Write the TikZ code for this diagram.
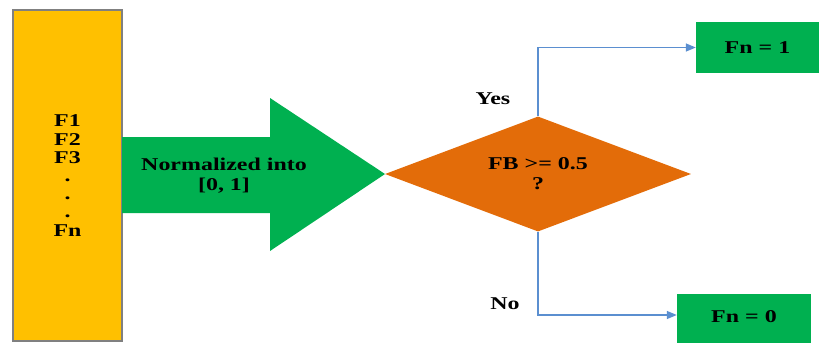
\documentclass[tikz,border=0pt]{standalone}
\usepackage{fontspec}
\setmainfont{Liberation Serif}[FakeStretch=1.33]
\usetikzlibrary{shapes.geometric,arrows.meta}
\definecolor{yel}{HTML}{FFC000}
\definecolor{grn}{HTML}{00B050}
\definecolor{org}{HTML}{E36C09}
\definecolor{lnk}{HTML}{5B8FD0}
\tikzset{
  txt/.style={font=\bfseries\fontsize{18}{20}\selectfont, align=center, inner sep=0pt},
  gbox/.style={fill=grn, draw=none, inner sep=0pt, font=\bfseries\fontsize{18}{20}\selectfont},
  conn/.style={draw=lnk, line width=1.4pt, -{Triangle[length=10pt,width=8pt]}}
}
\begin{document}
\begin{tikzpicture}[x=1pt,y=-1pt]
\useasboundingbox (0,0) rectangle (819,343);
% input bar
\node[fill=yel, draw=gray, line width=1.3pt, minimum width=109pt, minimum height=331pt, inner sep=0pt,
      font=\bfseries\fontsize{18}{18.2}\selectfont, align=center] (feat) at (67.5,175.5)
      {F1\\F2\\F3\\.\\.\\.\\Fn};
% big arrow
\fill[grn] (122,137) -- (270,137) -- (270,98) -- (385,174) -- (270,251) -- (270,213) -- (122,213) -- cycle;
\node[txt] (norm) at (224,176) {Normalized into\\{}[0, 1]};
% decision
\node[diamond, fill=org, draw=none, inner sep=0pt, aspect=2.66, minimum width=306pt, minimum height=115pt,
      font=\bfseries\fontsize{18}{20}\selectfont, align=center] (dia) at (538,174) {FB >= 0.5\\?};
% results
\node[gbox, minimum width=123pt, minimum height=51pt] (fn1) at (757.5,47.5) {Fn = 1};
\node[gbox, minimum width=134pt, minimum height=49pt] (fn0) at (744,318.5) {\raisebox{4pt}{Fn = 0}};
% connectors
\draw[conn] (dia.north) |- (fn1.west);
\draw[conn] (dia.south) |- ([yshift=3.5pt]fn0.west);
\node[txt] (yes) at (493,99) {Yes};
\node[txt] (no) at (505,304) {No};
\end{tikzpicture}
\end{document}
